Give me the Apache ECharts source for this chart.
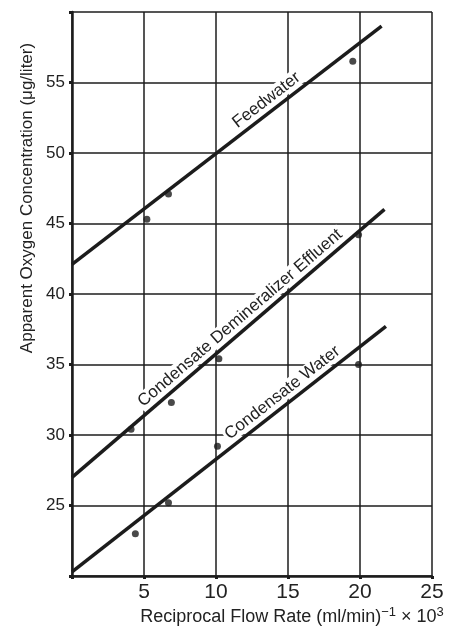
<!DOCTYPE html>
<html><head><meta charset="utf-8">
<script src="https://cdn.jsdelivr.net/npm/echarts@6/dist/echarts.min.js"></script>
<style>html,body{margin:0;padding:0;background:#fff}#c{width:453px;height:629px}</style>
</head><body><div id="c"></div>
<script>
// ---- data ----
const xTicks = [5, 10, 15, 20, 25];
const yTicks = [25, 30, 35, 40, 45, 50, 55];
const feedPoints = [[5.2, 45.3], [6.7, 47.1], [19.5, 56.5]];
const feedLine = [[0, 42.1], [21.5, 59.0]];
const deminPoints = [[4.1, 30.4], [6.9, 32.3], [10.2, 35.4], [19.9, 44.2]];
const deminLine = [[0, 27.0], [21.7, 46.0]];
const condPoints = [[4.4, 23.0], [6.7, 25.2], [10.1, 29.2], [19.9, 35.0]];
const condLine = [[0, 20.3], [21.8, 37.7]];
const seriesNames = ['Feedwater', 'Condensate Demineralizer Effluent', 'Condensate Water'];
const labelAt = [14.0, 12.2, 15.1]; // x position (data units) of each line's label centre

const INK = '#1c1c1c';
const FONT = '"Liberation Sans", Arial, sans-serif';
const chart = echarts.init(document.getElementById('c'), null, {renderer: 'canvas'});

function fitSeries(name, d) {
  return {name: name + ' fit', type: 'line', data: d, showSymbol: false, symbol: 'none',
    lineStyle: {color: INK, width: 3.5}, z: 3, silent: true, animation: false};
}
function ptSeries(name, d) {
  return {name: name, type: 'scatter', data: d, symbol: 'circle', symbolSize: 7,
    itemStyle: {color: INK}, z: 4, animation: false};
}

chart.setOption({
  animation: false,
  grid: {left: 72, right: 21, top: 12, bottom: 53},
  xAxis: {
    type: 'value', min: 0, max: 25, interval: 5,
    axisLine: {show: true, lineStyle: {color: INK, width: 2.5}},
    axisTick: {show: true, inside: false, length: 3, lineStyle: {color: INK, width: 3}},
    axisLabel: {fontSize: 21, color: '#222', fontFamily: FONT, margin: 6,
      formatter: v => xTicks.includes(v) ? String(v) : ''},
    splitLine: {show: true, lineStyle: {color: INK, width: 1.5}}
  },
  yAxis: {
    type: 'value', min: 20, max: 60, interval: 5,
    axisLine: {show: true, lineStyle: {color: INK, width: 2.5}},
    axisTick: {show: true, inside: false, length: 3, lineStyle: {color: INK, width: 3}},
    axisLabel: {fontSize: 17, color: '#222', fontFamily: FONT, margin: 7,
      formatter: v => yTicks.includes(v) ? String(v) : ''},
    splitLine: {show: true, lineStyle: {color: INK, width: 1.5}}
  },
  series: [
    fitSeries(seriesNames[0], feedLine), ptSeries(seriesNames[0], feedPoints),
    fitSeries(seriesNames[1], deminLine), ptSeries(seriesNames[1], deminPoints),
    fitSeries(seriesNames[2], condLine), ptSeries(seriesNames[2], condPoints)
  ]
});

function lineLabel(text, line, fx, off) {
  const p0 = chart.convertToPixel({gridIndex: 0}, line[0]);
  const p1 = chart.convertToPixel({gridIndex: 0}, line[1]);
  const t = (fx - line[0][0]) / (line[1][0] - line[0][0]);
  const cx = p0[0] + (p1[0] - p0[0]) * t, cy = p0[1] + (p1[1] - p0[1]) * t;
  const ang = Math.atan2(p0[1] - p1[1], p1[0] - p0[0]);
  return {
    type: 'text', x: cx - Math.sin(ang) * off, y: cy - Math.cos(ang) * off, rotation: ang, z: 100,
    style: {text: text, font: '17px ' + FONT, fill: '#222', align: 'center', verticalAlign: 'middle',
      textAlign: 'center', textVerticalAlign: 'middle', backgroundColor: '#fff', padding: [0, 2]}
  };
}

chart.setOption({
  graphic: [
    lineLabel(seriesNames[0], feedLine, labelAt[0], 11.5),
    lineLabel(seriesNames[1], deminLine, labelAt[1], 11.5),
    lineLabel(seriesNames[2], condLine, labelAt[2], 11.5),
    {type: 'text', x: 27, y: 198, rotation: Math.PI / 2, z: 100,
      style: {text: 'Apparent Oxygen Concentration (\u03bcg/liter)', font: '17px ' + FONT, fill: '#222',
        align: 'center', verticalAlign: 'middle', textAlign: 'center', textVerticalAlign: 'middle'}},
    {type: 'text', x: 292, y: 617, z: 100,
      style: {text: 'Reciprocal Flow Rate (ml/min){sup|\u22121} \u00d7 10{sup|3}', font: '18px ' + FONT, fill: '#222',
        align: 'center', verticalAlign: 'middle', textAlign: 'center', textVerticalAlign: 'middle',
        rich: {sup: {fontSize: 13, fontFamily: FONT, fill: '#222', color: '#222', padding: [0, 0, 10, 0]}}}}
  ]
});
</script></body></html>
